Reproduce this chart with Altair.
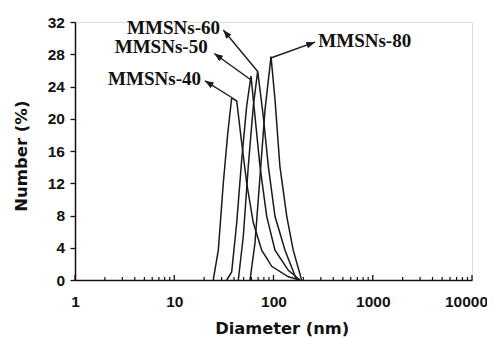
import math
import altair as alt
import pandas as pd

# ---- data ----
d40 = [24.7, 27.8, 31.2, 34.6, 37.9, 42.6, 47.8, 53.7, 62.6, 76.0, 95.9, 141, 185]
v40 = [0, 3.7, 12.0, 18.2, 22.6, 22.2, 17.0, 12.0, 7.1, 3.7, 1.7, 0.4, 0]

d50 = [33.8, 37.9, 42.6, 47.8, 53.7, 59.3, 65.1, 73.1, 85.4, 103.5, 141, 185]
v50 = [0, 1.0, 7.1, 14.9, 21.6, 25.3, 20.3, 14.1, 7.9, 3.7, 1.2, 0]

d60 = [44.2, 49.6, 55.7, 62.6, 69.3, 78.9, 88.7, 103.5, 130.6, 171]
v60 = [0, 5.4, 14.1, 21.6, 25.9, 20.3, 14.1, 7.9, 3.7, 0]

d80 = [58.0, 65.1, 73.1, 82.1, 94.4, 103.5, 116, 136, 158, 192]
v80 = [0, 4.6, 12.8, 21.1, 27.7, 22.4, 14.1, 7.9, 3.7, 0]

labels = ["MMSNs-40", "MMSNs-50", "MMSNs-60", "MMSNs-80"]
label_x = [18.6, 21.7, 28.9, 282.8]
label_y = [24.94, 28.86, 31.26, 29.64]
label_align = ["right", "right", "right", "left"]

arrow_x0 = [37.3, 58.0, 69.0, 92.2]
arrow_y0 = [22.7, 24.9, 25.9, 27.5]
arrow_x1 = [20.4, 25.3, 31.2, 261.9]
arrow_y1 = [24.7, 28.1, 31.0, 29.5]

x_major = [1, 10, 100, 1000, 10000]
x_minor = [m * 10 ** k for k in range(4) for m in range(2, 10)]
y_ticks = [0, 4, 8, 12, 16, 20, 24, 28, 32]

W, H = 397, 258
XMIN, XMAX, YMAX = 1, 10000, 32

rows = []
for name, ds, vs in zip(labels, [d40, d50, d60, d80], [v40, v50, v60, v80]):
    for i, (d, v) in enumerate(zip(ds, vs)):
        rows.append({"series": name, "d": d, "v": v, "i": i})
curves = pd.DataFrame(rows)


def px(d):
    return W * (math.log10(d) - math.log10(XMIN)) / (math.log10(XMAX) - math.log10(XMIN))


def py(v):
    return H * (1 - v / YMAX)


angles = []
for x0, y0, x1, y1 in zip(arrow_x0, arrow_y0, arrow_x1, arrow_y1):
    dx = px(x1) - px(x0)
    dy = py(y1) - py(y0)
    ang = math.degrees(math.atan2(dx, -dy)) % 360
    angles.append(ang)

arrows = pd.DataFrame({"x0": arrow_x0, "y0": arrow_y0, "x1": arrow_x1, "y1": arrow_y1, "ang": angles})
texts = pd.DataFrame({"label": labels, "x": label_x, "y": label_y, "align": label_align})
ticks = pd.DataFrame({"t": x_major + x_minor, "major": [1] * len(x_major) + [0] * len(x_minor)})

xscale = alt.Scale(type="log", domain=[XMIN, XMAX], nice=False)
yscale = alt.Scale(domain=[0, YMAX], nice=False, zero=False)

xaxis = alt.Axis(
    values=x_major, format="d", grid=False, ticks=False, tickSize=0,
    labelPadding=14, labelFont="Liberation Sans", labelFontWeight="bold",
    labelFontSize=15.5, labelColor="#111", domainColor="#111", domainWidth=1.5,
    title="Diameter (nm)", titleFont="DejaVu Sans", titleFontWeight="bold",
    titleFontSize=16.3, titleColor="#111", titleX=206.7, titleY=53.3,
    titleBaseline="alphabetic", titleAlign="center", labelFlush=False,
    labelOverlap=False,
    labelOffset={"condition": {"test": "datum.value == 10000", "value": -6}, "value": 0},
)
yaxis = alt.Axis(
    values=y_ticks, grid=False, tickSize=5, tickColor="#111", tickWidth=1.3,
    labelPadding=5.5, labelFont="Liberation Sans", labelFontWeight="bold",
    labelFontSize=15.5, labelColor="#111", domainColor="#111", domainWidth=1.5,
    title="Number (%)", titleFont="DejaVu Sans", titleFontWeight="bold",
    titleFontSize=16.5, titleColor="#111", titleX=-49, titleY=133.7,
    titleBaseline="alphabetic", titleAlign="center", titleAngle=270, labelFlush=False,
    labelOverlap=False,
)


def X(field):
    return alt.X(field, scale=xscale, axis=xaxis)


def Y(field):
    return alt.Y(field, scale=yscale, axis=yaxis)


lines = alt.Chart(curves).mark_line(color="#1a1a1a", strokeWidth=1.5).encode(
    x=X("d:Q"), y=Y("v:Q"), detail="series:N", order="i:Q",
)

tick_major = alt.Chart(ticks).transform_filter("datum.major == 1").mark_rule(
    color="#111", strokeWidth=1.3
).encode(x=X("t:Q"), y=alt.value(H), y2=alt.value(H - 5))

tick_minor = alt.Chart(ticks).transform_filter("datum.major == 0").mark_rule(
    color="#111", strokeWidth=1.2
).encode(x=X("t:Q"), y=alt.value(H), y2=alt.value(H - 3))

arrow_lines = alt.Chart(arrows).mark_rule(color="#1a1a1a", strokeWidth=1.4).encode(
    x=X("x0:Q"), x2="x1:Q", y=Y("y0:Q"), y2="y1:Q",
)

arrow_heads = alt.Chart(arrows).mark_point(
    shape="M0,0L0.38,1L-0.38,1Z", filled=True, color="#1a1a1a", size=300, opacity=1
).encode(
    x=X("x1:Q"), y=Y("y1:Q"), angle=alt.Angle("ang:Q", scale=None),
)

text_left = alt.Chart(texts).transform_filter("datum.align == 'right'").mark_text(
    align="right", baseline="middle", font="Liberation Serif", fontWeight="bold",
    fontSize=19, color="#111"
).encode(x=X("x:Q"), y=Y("y:Q"), text="label:N")

text_right = alt.Chart(texts).transform_filter("datum.align == 'left'").mark_text(
    align="left", baseline="middle", font="Liberation Serif", fontWeight="bold",
    fontSize=19, color="#111"
).encode(x=X("x:Q"), y=Y("y:Q"), text="label:N")

chart = alt.layer(
    lines, tick_major, tick_minor, arrow_lines, arrow_heads, text_left, text_right
).properties(
    width=W, height=H,
    autosize=alt.AutoSizeParams(type="none"),
    padding={"left": 67, "top": 14, "right": 15, "bottom": 57},
).configure_view(stroke=None).configure(background="white")

chart.save("out.html", embed_options={"renderer": "svg", "actions": False})
